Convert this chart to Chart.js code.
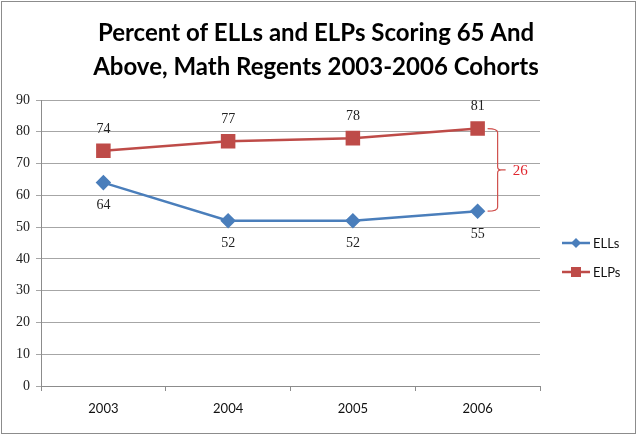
<!DOCTYPE html>
<html><head><meta charset="utf-8">
<script src="https://cdn.jsdelivr.net/npm/chart.js@4/dist/chart.umd.min.js"></script>
<style>html,body{margin:0;padding:0;background:#fff}#wrap{width:637px;height:436px}</style>
</head><body><div id="wrap"><canvas id="c" width="637" height="436"></canvas></div>
<script>
const categories = ['2003', '2004', '2005', '2006'];
const ellValues = [64, 52, 52, 55];
const elpValues = [74, 77, 78, 81];
const seriesNames = ['ELLs', 'ELPs'];
const titleLines = ['Percent of ELLs and ELPs Scoring 65 And', 'Above, Math Regents 2003-2006 Cohorts'];
const yTicks = [0, 10, 20, 30, 40, 50, 60, 70, 80, 90];

const BLUE = '#4A7EBB', RED = '#BE4B48';

const decor = {
  id: 'decor',
  beforeDraw(chart) {
    const ctx = chart.ctx;
    ctx.save();
    ctx.fillStyle = '#fff';
    ctx.fillRect(0, 0, chart.width, chart.height);
    ctx.strokeStyle = '#8c8c8c';
    ctx.lineWidth = 1;
    ctx.strokeRect(1.5, 1.5, chart.width - 3, chart.height - 4);
    // title
    ctx.fillStyle = '#000';
    ctx.font = 'bold 24px Lato';
    ctx.textAlign = 'center';
    ctx.textBaseline = 'middle';
    titleLines.forEach((t, i) => ctx.fillText(t, 316, 33 + i * 34));
    ctx.restore();
  },
  afterDatasetsDraw(chart) {
    const ctx = chart.ctx;
    ctx.save();
    // data labels
    ctx.font = '14px "Liberation Serif"';
    ctx.fillStyle = '#222';
    ctx.textAlign = 'center';
    ctx.textBaseline = 'middle';
    chart.data.datasets.forEach((ds, i) => {
      const meta = chart.getDatasetMeta(i);
      meta.data.forEach((pt, j) => {
        const dy = i === 0 ? 23 : -22;
        ctx.fillText(String(ds.data[j]), pt.x, pt.y + dy);
      });
    });
    // bracket showing gap at last category
    const last = categories.length - 1;
    const xs = chart.scales.x, ys = chart.scales.y;
    const px = xs.getPixelForValue(last);
    const yTop = ys.getPixelForValue(elpValues[last]);
    const yBot = ys.getPixelForValue(ellValues[last]);
    const yMid = (yTop + yBot) / 2;
    const x0 = px + 10, x1 = px + 20;
    ctx.strokeStyle = '#D0504D';
    ctx.lineWidth = 1.2;
    ctx.beginPath();
    ctx.moveTo(x0, yTop);
    ctx.quadraticCurveTo(x1, yTop, x1, yTop + 4);
    ctx.lineTo(x1, yMid - 3);
    ctx.quadraticCurveTo(x1, yMid, x1 + 4, yMid);
    ctx.lineTo(x1 + 8, yMid);
    ctx.moveTo(x1 + 4, yMid);
    ctx.quadraticCurveTo(x1, yMid, x1, yMid + 3);
    ctx.lineTo(x1, yBot - 4);
    ctx.quadraticCurveTo(x1, yBot, x0, yBot);
    ctx.stroke();
    ctx.fillStyle = '#E0262E';
    ctx.font = '15px "Liberation Serif"';
    ctx.textAlign = 'left';
    ctx.fillText(String(elpValues[last] - ellValues[last]), x1 + 15, yMid + 1);
    // legend
    const lx = 562, ly = [243, 272];
    const cols = [BLUE, RED];
    ctx.font = '13px Lato';
    ctx.textAlign = 'left';
    ctx.textBaseline = 'middle';
    for (let i = 0; i < 2; i++) {
      ctx.strokeStyle = cols[i];
      ctx.lineWidth = 2.5;
      ctx.beginPath();
      ctx.moveTo(lx, ly[i]);
      ctx.lineTo(lx + 28, ly[i]);
      ctx.stroke();
      ctx.fillStyle = cols[i];
      ctx.beginPath();
      if (i === 0) {
        ctx.moveTo(lx + 14, ly[i] - 5); ctx.lineTo(lx + 19, ly[i]);
        ctx.lineTo(lx + 14, ly[i] + 5); ctx.lineTo(lx + 9, ly[i]);
        ctx.closePath();
      } else {
        ctx.rect(lx + 9, ly[i] - 5, 10, 10);
      }
      ctx.fill();
      ctx.fillStyle = '#111';
      ctx.fillText(seriesNames[i], lx + 31, ly[i] + 1);
    }
    ctx.restore();
  }
};

new Chart(document.getElementById('c'), {
  type: 'line',
  data: {
    labels: categories,
    datasets: [
      { label: seriesNames[0], data: ellValues, borderColor: BLUE, backgroundColor: BLUE,
        borderWidth: 2.5, pointStyle: 'rectRot', pointRadius: 6, pointHoverRadius: 6, tension: 0 },
      { label: seriesNames[1], data: elpValues, borderColor: RED, backgroundColor: RED,
        borderWidth: 2.5, pointStyle: 'rect', pointRadius: 8.5, pointHoverRadius: 8.5, tension: 0 }
    ]
  },
  options: {
    responsive: false,
    animation: false,
    events: [],
    layout: { padding: { left: 0, right: 97, top: 100, bottom: 0 } },
    plugins: {
      legend: { display: false },
      tooltip: { enabled: false },
      title: { display: false }
    },
    scales: {
      x: {
        offset: true,
        grid: { offset: true, drawOnChartArea: false, drawTicks: true, tickLength: 5, color: '#8c8c8c' },
        border: { color: '#8c8c8c' },
        ticks: { color: '#111', font: { family: 'Lato', size: 13 }, padding: 10 },
        afterFit(s) { s.height = 50; }
      },
      y: {
        min: 0, max: 90,
        afterBuildTicks(s) { s.ticks = yTicks.map(v => ({ value: v })); },
        grid: { color: '#a6a6a6', tickLength: 5, drawTicks: true },
        border: { color: '#8c8c8c' },
        ticks: { color: '#222', font: { family: 'Liberation Serif', size: 14 }, padding: 6 },
        afterFit(s) { s.width = 41; }
      }
    }
  },
  plugins: [decor]
});
</script></body></html>
